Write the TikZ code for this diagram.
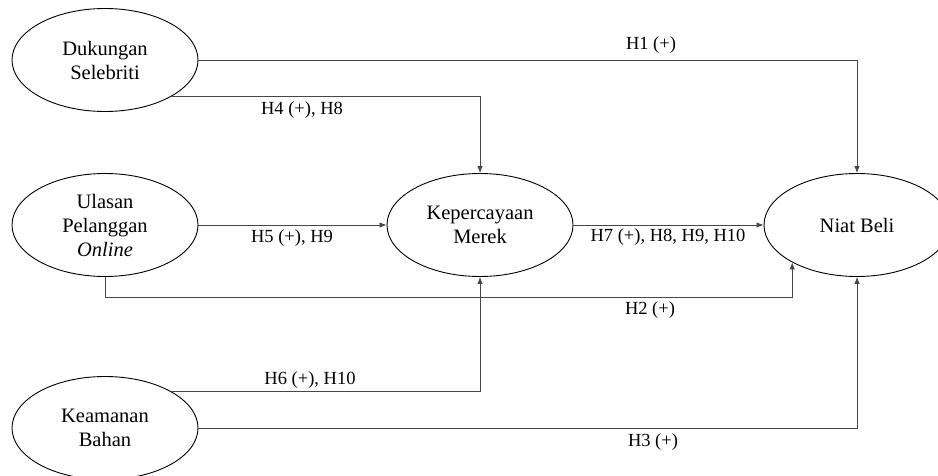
\documentclass[tikz,border=0pt]{standalone}
\usepackage{fontspec}
\setmainfont{Liberation Serif}
\usetikzlibrary{shapes.geometric,arrows.meta}
\begin{document}
\begin{tikzpicture}[x=1pt,y=-1pt,
  var/.style={draw=black,line width=0.9pt,ellipse,minimum width=186pt,minimum height=103pt,inner sep=0pt,align=center,font=\fontsize{20.5}{24}\selectfont},
  lbl/.style={inner sep=0pt,font=\fontsize{18.5}{21}\selectfont},
  arr/.style={draw={rgb,255:red,70;green,70;blue,70},line width=0.8pt,-{Latex[length=7pt,width=5.5pt]}}]
\clip (0,0) rectangle (938,476);
\fill[white] (0,0) rectangle (938,476);
\node[var] (dk) at (105,60) {Dukungan\\Selebriti};
\node[var] (ul) at (105,225) {Ulasan\\Pelanggan\\\textit{Online}};
\node[var] (kb) at (105,428) {Keamanan\\Bahan};
\node[var] (km) at (480,225) {Kepercayaan\\Merek};
\node[var] (nb) at (857,225) {Niat Beli};
\draw[arr] (dk.east) -| (nb.north);
\draw[arr] (dk.-29) -| (km.north);
\draw[arr] (ul.east) -- (km.west);
\draw[arr] (km.east) -- (nb.west);
\draw[arr] (ul.south) -- ++(0,20) -| (nb.210);
\draw[arr] (kb.29) -| (km.south);
\draw[arr] (kb.east) -| (nb.south);
\node[lbl] (l1) at (651,45) {H1 (+)};
\node[lbl] (l4) at (302,110) {H4 (+), H8};
\node[lbl] (l5) at (292,238) {H5 (+), H9};
\node[lbl] (l7) at (668,237) {H7 (+), H8, H9, H10};
\node[lbl] (l2) at (650,310) {H2 (+)};
\node[lbl] (l6) at (310,380) {H6 (+), H10};
\node[lbl] (l3) at (653,442) {H3 (+)};
\end{tikzpicture}
\end{document}
